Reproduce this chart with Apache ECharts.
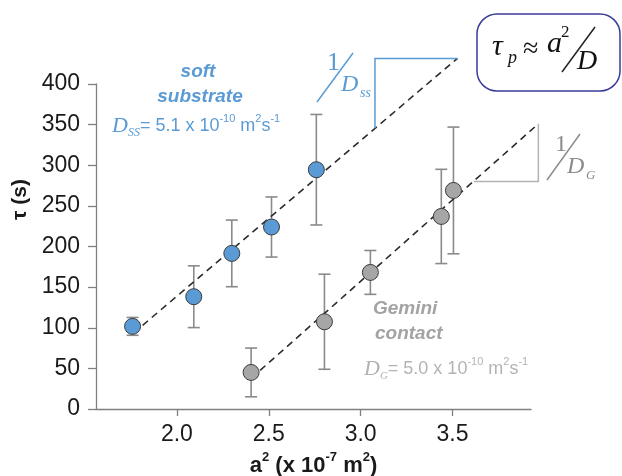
<!DOCTYPE html>
<html><head><meta charset="utf-8">
<script src="https://cdn.jsdelivr.net/npm/echarts@6/dist/echarts.min.js"></script>
<style>html,body{margin:0;padding:0;background:#fff}#c{width:622px;height:476px}</style>
</head><body><div id="c"></div>
<script>
// ---- data ----
const xTicks = [2.0, 2.5, 3.0, 3.5];
const softX   = [1.759, 2.092, 2.299, 2.515, 2.759];
const softY   = [101.7, 138.2, 191.5, 224.0, 294.5];
const softErr = [11, 38, 41, 37, 68];
const gemX    = [2.404, 2.803, 3.053, 3.439, 3.505];
const gemY    = [45.0, 107.4, 168.1, 237.0, 269.0];
const gemErr  = [30, 58.5, 27, 58, 78];
const softFit = [[1.764, 93.5], [3.527, 431.5]];
const gemFit  = [[2.453, 47.5], [3.967, 351.0]];
const softSlope = [[3.078, 345.4], [3.078, 431.5], [3.527, 431.5]];
const gemSlope  = [[3.616, 280.0], [3.967, 280.0], [3.967, 351.0]];

const BLUE = '#5b9bd5', GREY = '#a6a6a6';
const pts = (xs, ys) => xs.map((x, i) => [x, ys[i]]);
const errs = (xs, ys, es) => xs.map((x, i) => [x, ys[i] - es[i], ys[i] + es[i]]);

function errItem(params, api) {
  const x = api.value(0);
  const a = api.coord([x, api.value(1)]), b = api.coord([x, api.value(2)]);
  const w = 6, st = {stroke: '#8a8a8a', lineWidth: 1.6};
  return {type: 'group', children: [
    {type: 'line', shape: {x1: a[0], y1: a[1], x2: b[0], y2: b[1]}, style: st},
    {type: 'line', shape: {x1: a[0]-w, y1: a[1], x2: a[0]+w, y2: a[1]}, style: st},
    {type: 'line', shape: {x1: b[0]-w, y1: b[1], x2: b[0]+w, y2: b[1]}, style: st}
  ]};
}
// polyline drawn through the axes (custom series, not clipped)
function polySeries(points, style) {
  return {
    type: 'custom', clip: false, silent: true, z: 2,
    data: [points[0]],
    renderItem: (params, api) => ({
      type: 'polyline',
      shape: {points: points.map(p => api.coord(p))},
      style: Object.assign({fill: null}, style)
    })
  };
}

const SERIF = '"Liberation Serif","DejaVu Serif",serif';
const SANS = '"Liberation Sans",Arial,sans-serif';
function txt(x, y, text, font, fill, extra) {
  return Object.assign({type: 'text', x: x, y: y, z: 100, style: {text: text, font: font, fill: fill, textAlign: 'left', textVerticalAlign: 'middle', align: 'left', verticalAlign: 'middle'}}, extra || {});
}
function seg(x1, y1, x2, y2, col) {
  return {type: 'line', z: 100, shape: {x1, y1, x2, y2}, style: {stroke: col, lineWidth: 1.5}};
}

const chart = echarts.init(document.getElementById('c'));
chart.setOption({
  animation: false,
  grid: {left: 96, right: 91, top: 84, bottom: 67, outerBoundsMode: 'none', containLabel: false},
  xAxis: {
    type: 'value', min: 1.56, max: 3.927,
    axisLine: {lineStyle: {color: '#808080', width: 1.3}},
    axisTick: {customValues: xTicks, length: 7, lineStyle: {color: '#808080', width: 1.3}},
    axisLabel: {customValues: xTicks, formatter: v => v.toFixed(1), fontSize: 23, fontFamily: SANS, color: '#1a1a1a', margin: 14},
    splitLine: {show: false},
    name: '{b|a}{s|2}{b| (x 10}{s|-7}{b| m}{s|2}{b|)}', nameLocation: 'middle', nameGap: 42,
    nameTextStyle: {rich: {
      b: {fontSize: 22, fontWeight: 'bold', fontFamily: SANS, color: '#1a1a1a', lineHeight: 26, verticalAlign: 'bottom'},
      s: {fontSize: 13, fontWeight: 'bold', fontFamily: SANS, color: '#1a1a1a', lineHeight: 26, verticalAlign: 'top'}
    }}
  },
  yAxis: {
    type: 'value', min: 0, max: 400, interval: 50,
    axisLine: {show: true, lineStyle: {color: '#808080', width: 1.3}},
    axisTick: {show: true, length: 8, lineStyle: {color: '#808080', width: 1.3}},
    axisLabel: {fontSize: 23, fontFamily: SANS, color: '#1a1a1a', margin: 16},
    splitLine: {show: false},
    name: 'τ (s)', nameLocation: 'middle', nameRotate: 90, nameGap: 64,
    nameTextStyle: {fontSize: 21, fontWeight: 'bold', fontFamily: SANS, color: '#1a1a1a', padding: [0, 0, 0, 94]}
  },
  series: [
    {type: 'custom', renderItem: errItem, data: errs(softX, softY, softErr), z: 1, silent: true},
    {type: 'custom', renderItem: errItem, data: errs(gemX, gemY, gemErr), z: 1, silent: true},
    polySeries(softFit, {stroke: '#2b2b2b', lineWidth: 1.6, lineDash: [7, 5]}),
    polySeries(gemFit, {stroke: '#2b2b2b', lineWidth: 1.6, lineDash: [7, 5]}),
    polySeries(softSlope, {stroke: BLUE, lineWidth: 1.5}),
    polySeries(gemSlope, {stroke: '#b3b3b3', lineWidth: 1.5}),
    {type: 'scatter', data: pts(softX, softY), symbolSize: 16, z: 3, itemStyle: {color: BLUE, borderColor: '#3a3a3a', borderWidth: 1, opacity: 1}},
    {type: 'scatter', data: pts(gemX, gemY), symbolSize: 16, z: 3, itemStyle: {color: GREY, borderColor: '#3a3a3a', borderWidth: 1, opacity: 1}}
  ],
  graphic: [
    // equation box
    {type: 'rect', z: 99, shape: {x: 477, y: 14, width: 143, height: 77, r: 20}, style: {fill: '#fff', stroke: '#3b3b9a', lineWidth: 1.5}},
    txt(492, 47.5, 'τ', 'italic 30px ' + SERIF, '#111'),
    txt(508, 58, 'p', 'italic 18px ' + SERIF, '#111'),
    txt(523, 50, '≈', '28px ' + SERIF, '#111'),
    txt(547, 44, 'a', 'italic 30px ' + SERIF, '#111'),
    txt(561, 33, '2', '17px ' + SERIF, '#111'),
    seg(562, 72, 595, 27, '#222'),
    txt(577, 62, 'D', 'italic 28px ' + SERIF, '#111'),
    // 1/Dss
    txt(327, 63, '1', '26px ' + SERIF, BLUE),
    seg(317, 102, 353, 53, BLUE),
    txt(341, 84.5, 'D', 'italic 24px ' + SERIF, BLUE),
    txt(360, 93, 'ss', 'italic 14px ' + SERIF, BLUE),
    // 1/DG
    txt(555, 144.5, '1', '24px ' + SERIF, '#8c8c8c'),
    seg(547, 180, 580, 134, '#8c8c8c'),
    txt(567, 166.5, 'D', 'italic 24px ' + SERIF, '#8c8c8c'),
    txt(586, 175.5, 'G', 'italic 13px ' + SERIF, '#8c8c8c'),
    // soft substrate
    {type: 'text', x: 198, y: 72, z: 100, style: {text: 'soft', font: 'italic bold 19px ' + SANS, fill: BLUE, textAlign: 'center', textVerticalAlign: 'middle', align: 'center', verticalAlign: 'middle'}},
    {type: 'text', x: 200, y: 97, z: 100, style: {text: 'substrate', font: 'italic bold 19px ' + SANS, fill: BLUE, textAlign: 'center', textVerticalAlign: 'middle', align: 'center', verticalAlign: 'middle'}},
    {type: 'text', x: 112, y: 126, z: 100, style: {
      text: '{d|D}{ds|SS}{n|= 5.1 x 10}{p|-10}{n| m}{p|2}{n|s}{p|-1}', textAlign: 'left', textVerticalAlign: 'middle', align: 'left', verticalAlign: 'middle',
      rich: {
        d: {font: 'italic 22px ' + SERIF, fill: BLUE, lineHeight: 26, verticalAlign: 'middle'},
        ds: {font: 'italic 12px ' + SERIF, fill: BLUE, lineHeight: 26, verticalAlign: 'bottom'},
        n: {font: '18px ' + SANS, fill: BLUE, lineHeight: 26, verticalAlign: 'middle'},
        p: {font: '11px ' + SANS, fill: BLUE, lineHeight: 26, verticalAlign: 'top'}
      }}},
    // Gemini contact
    txt(373, 309, 'Gemini', 'italic bold 19px ' + SANS, '#a3a3a3'),
    txt(375, 334, 'contact', 'italic bold 19px ' + SANS, '#a3a3a3'),
    {type: 'text', x: 364, y: 369, z: 100, style: {
      text: '{d|D}{ds|G}{n|= 5.0 x 10}{p|-10}{n| m}{p|2}{n|s}{p|-1}', textAlign: 'left', textVerticalAlign: 'middle', align: 'left', verticalAlign: 'middle',
      rich: {
        d: {font: 'italic 22px ' + SERIF, fill: '#b3b3b3', lineHeight: 26, verticalAlign: 'middle'},
        ds: {font: 'italic 11px ' + SERIF, fill: '#b3b3b3', lineHeight: 26, verticalAlign: 'bottom'},
        n: {font: '18px ' + SANS, fill: '#b3b3b3', lineHeight: 26, verticalAlign: 'middle'},
        p: {font: '11px ' + SANS, fill: '#b3b3b3', lineHeight: 26, verticalAlign: 'top'}
      }}}
  ]
});
</script></body></html>
